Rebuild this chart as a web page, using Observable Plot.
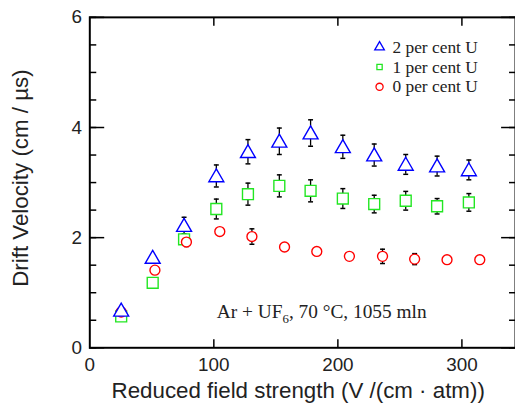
<!DOCTYPE html>
<html><head><meta charset="utf-8">
<script src="https://cdn.jsdelivr.net/npm/d3@7"></script>
<script src="https://cdn.jsdelivr.net/npm/@observablehq/plot@0.6"></script>
<style>
html,body{margin:0;padding:0;background:#fff;overflow:hidden}
#wrap{width:515px;height:406px;overflow:hidden}
</style>
</head><body><div id="wrap"></div>
<script>
// Reduced field strength (V/(cm·atm)) and drift velocity (cm/µs)
const fieldU2 = [25.3, 50.7, 76, 102, 127.5, 152.8, 178, 204, 229.3, 254.7, 280, 305.6];
const velU2   = [0.68, 1.64, 2.22, 3.12, 3.56, 3.75, 3.90, 3.65, 3.50, 3.33, 3.30, 3.23];
const errU2   = [0, 0, 0.15, 0.20, 0.22, 0.24, 0.24, 0.21, 0.20, 0.18, 0.18, 0.18];

const fieldU1 = [25.3, 50.7, 76, 102, 127.5, 152.8, 178, 204, 229.3, 254.7, 280, 305.6];
const velU1   = [0.57, 1.18, 1.97, 2.52, 2.79, 2.94, 2.85, 2.71, 2.61, 2.67, 2.57, 2.64];
const errU1   = [0, 0, 0, 0.18, 0.20, 0.20, 0.20, 0.18, 0.16, 0.17, 0.14, 0.16];

const fieldU0 = [25.3, 52.5, 77.9, 104.8, 130.7, 157, 183, 209.3, 236, 261.9, 288, 314.4];
const velU0   = [0.65, 1.41, 1.92, 2.11, 2.02, 1.83, 1.75, 1.66, 1.66, 1.61, 1.60, 1.60];
const errU0   = [0, 0, 0.08, 0, 0.14, 0, 0, 0, 0.13, 0.10, 0, 0];

const seriesNames = ["2 per cent U", "1 per cent U", "0 per cent U"];
const seriesColors = ["#0000ff", "#22e622", "#ff0000"];
const xTicks = [0, 100, 200, 300];
const xMajorTicks = [100, 200, 300];
const yTicks = [0, 2, 4, 6];
const yMinorTicks = [0, 0.5, 1, 1.5, 2, 2.5, 3, 3.5, 4, 4.5, 5, 5.5, 6];
const xLabel = "Reduced field strength (V /(cm · atm))";
const yLabel = "Drift Velocity (cm / µs)";
const annoMain = "Ar + UF", annoSub = "6", annoRest = ", 70 °C, 1055 mln";

const mk = (xs, ys, es) => xs.map((x, i) => ({x, y: ys[i], e: es[i]}));
const d2 = mk(fieldU2, velU2, errU2);
const d1 = mk(fieldU1, velU1, errU1);
const d0 = mk(fieldU0, velU0, errU0);
const errRows = [...d2, ...d1, ...d0].filter(d => d.e > 0);
const capRows = errRows.flatMap(d => [{x: d.x, y: d.y - d.e}, {x: d.x, y: d.y + d.e}]);

const capSymbol = {draw(ctx, size) { const w = Math.sqrt(size); ctx.moveTo(-w / 2, 0); ctx.lineTo(w / 2, 0); }};

const sans = "Liberation Sans, Arial, Helvetica, sans-serif";
const serif = "Liberation Serif, Times New Roman, serif";

const legendMarks = seriesNames.flatMap((name, i) => [
  Plot.dot([name], {frameAnchor: "top-left", dx: 292, dy: 30 + i * 20,
    symbol: ["triangle", "square", "circle"][i], r: [3.6, 3.0, 3.6][i],
    stroke: seriesColors[i], strokeWidth: 1.3, fill: "white"}),
  Plot.text([name], {frameAnchor: "top-left", dx: 305, dy: 30 + i * 20, text: d => d,
    textAnchor: "start", lineAnchor: "middle", fontFamily: serif, fontSize: 17.5, fill: "#222"})
]);

const chart = Plot.plot({
  width: 519, height: 406,
  marginLeft: 90, marginRight: 0, marginTop: 17, marginBottom: 56,
  style: {fontFamily: sans, fontSize: "19px", color: "#222", background: "white"},
  x: {domain: [0, 343.2]},
  y: {domain: [0, 6]},
  marks: [
    Plot.frame({strokeWidth: 2, stroke: "black"}),
    Plot.axisX({anchor: "bottom", ticks: xMajorTicks, tickSize: -8, fill: "none", stroke: "black", strokeWidth: 1.5, label: null}),
    Plot.axisX({anchor: "top", ticks: xMajorTicks, tickSize: -8, fill: "none", stroke: "black", strokeWidth: 1.5, label: null}),
    Plot.axisX({anchor: "bottom", ticks: xTicks, tickSize: 0, tickPadding: 10, fontSize: 19,
      tickFormat: d3.format("d"), label: null}),
    Plot.axisY({anchor: "left", ticks: yMinorTicks, tickSize: -7, fill: "none", stroke: "black", strokeWidth: 1.5, label: null}),
    Plot.axisY({anchor: "left", ticks: yTicks, tickSize: -15, fill: "none", stroke: "black", strokeWidth: 1.5, label: null}),
    Plot.axisY({anchor: "right", ticks: yMinorTicks, tickSize: -7, fill: "none", stroke: "black", strokeWidth: 1.5, label: null}),
    Plot.axisY({anchor: "right", ticks: yTicks, tickSize: -15, fill: "none", stroke: "black", strokeWidth: 1.5, label: null}),
    Plot.axisY({anchor: "left", ticks: yTicks, tickSize: 0, tickPadding: 8, fontSize: 19,
      tickFormat: d3.format("d"), label: null}),
    Plot.text([xLabel], {frameAnchor: "bottom", dx: -4.5, dy: 43.5, text: d => d, textAnchor: "middle", lineAnchor: "middle",
      fontFamily: sans, fontSize: 22.5, fill: "#222"}),
    Plot.text([yLabel], {frameAnchor: "left", dx: -70, dy: -4.5, rotate: -90, text: d => d, textAnchor: "middle", lineAnchor: "middle",
      fontFamily: sans, fontSize: 22.5, fill: "#222"}),
    Plot.ruleX(errRows, {x: "x", y1: d => d.y - d.e, y2: d => d.y + d.e, stroke: "black", strokeWidth: 1.3}),
    Plot.dot(capRows, {x: "x", y: "y", symbol: capSymbol, r: 2.8, stroke: "black", strokeWidth: 1.5, fill: "none"}),
    Plot.dot(d1, {x: "x", y: "y", symbol: "square", r: 6.2, stroke: seriesColors[1], strokeWidth: 1.4, fill: "white"}),
    Plot.dot(d0, {x: "x", y: "y", symbol: "circle", r: 5, stroke: seriesColors[2], strokeWidth: 1.4, fill: "white"}),
    Plot.dot(d2, {x: "x", y: "y", symbol: "triangle", r: 5.6, dy: 1.5, stroke: seriesColors[0], strokeWidth: 1.4, fill: "white"}),
    ...legendMarks,
    Plot.text([annoMain + annoSub + annoRest], {frameAnchor: "bottom-left", dx: 128, dy: -36, text: d => d,
      textAnchor: "start", lineAnchor: "middle", fontFamily: serif, fontSize: 19.5, fill: "#222"})
  ]
});
document.getElementById("wrap").appendChild(chart);

// subscript for UF6
chart.querySelectorAll("text").forEach(t => {
  if (t.textContent === annoMain + annoSub + annoRest) {
    t.textContent = "";
    const ns = "http://www.w3.org/2000/svg";
    const a = document.createElementNS(ns, "tspan"); a.textContent = annoMain;
    const b = document.createElementNS(ns, "tspan"); b.textContent = annoSub; b.setAttribute("dy", "5"); b.setAttribute("font-size", "13");
    const c = document.createElementNS(ns, "tspan"); c.textContent = annoRest; c.setAttribute("dy", "-5");
    t.append(a, b, c);
  }
});
</script>
</body></html>
